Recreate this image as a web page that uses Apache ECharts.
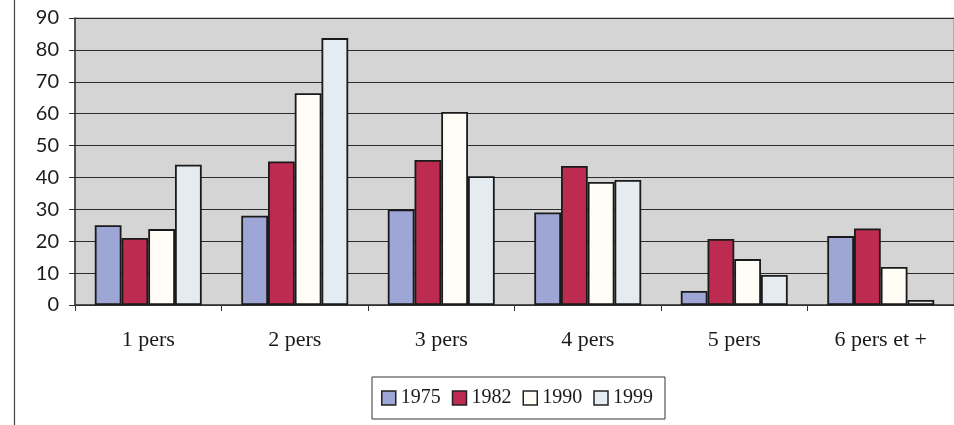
<!DOCTYPE html>
<html>
<head>
<meta charset="utf-8">
<script src="https://cdn.jsdelivr.net/npm/echarts@6/dist/echarts.min.js"></script>
<style>
  html, body { margin: 0; padding: 0; background: #ffffff; }
  #chart { width: 954px; height: 425px; }
</style>
</head>
<body>
<div id="chart"></div>
<script>
// Households by size: share per survey year
const categories = ['1 pers', '2 pers', '3 pers', '4 pers', '5 pers', '6 pers et +'];
const years = ['1975', '1982', '1990', '1999'];
const values1975 = [25, 28, 30, 29, 4.4, 21.6];
const values1982 = [21, 45, 45.5, 43.6, 20.7, 24];
const values1990 = [23.8, 66.4, 60.5, 38.6, 14.4, 11.9];
const values1999 = [44, 83.7, 40.4, 39.2, 9.4, 1.6];
const yTicks = [0, 10, 20, 30, 40, 50, 60, 70, 80, 90];

const seriesValues = [values1975, values1982, values1990, values1999];
const colors = ['#9ea6d6', '#bd2c50', '#fffdf5', '#e4ebf1'];

const chart = echarts.init(document.getElementById('chart'), null, { renderer: 'canvas' });

chart.setOption({
  animation: false,
  backgroundColor: '#ffffff',
  grid: {
    left: 75, top: 18, width: 888, bottom: 120,
    show: true, backgroundColor: '#d5d5d5', borderColor: '#8a8a8a', borderWidth: 1
  },
  xAxis: {
    type: 'category',
    data: categories,
    axisLine: { show: true, lineStyle: { color: '#333', width: 1.5 } },
    axisTick: { show: true, length: 6, lineStyle: { color: '#333' } },
    axisLabel: {
      margin: 24,
      fontFamily: 'Liberation Serif',
      fontSize: 22,
      color: '#1a1a1a'
    }
  },
  yAxis: {
    type: 'value',
    min: yTicks[0],
    max: yTicks[yTicks.length - 1],
    interval: 10,
    axisLine: { show: true, lineStyle: { color: '#333', width: 1.5 } },
    axisTick: { show: true, length: 6, lineStyle: { color: '#333' } },
    splitLine: { show: true, lineStyle: { color: '#2b2b2b', width: 1.2 } },
    axisLabel: {
      margin: 16,
      fontFamily: 'Lato',
      fontSize: 20,
      color: '#1a1a1a'
    }
  },
  legend: {
    data: years,
    left: 372, top: 377,
    padding: [11, 12, 11, 9],
    itemGap: 11,
    itemWidth: 14, itemHeight: 14,
    icon: 'rect',
    borderColor: '#333', borderWidth: 1,
    itemStyle: { borderColor: '#222', borderWidth: 1.5 },
    textStyle: { fontFamily: 'Liberation Serif', fontSize: 20, color: '#1a1a1a' }
  },
  graphic: [
    {
      type: 'line',
      shape: { x1: 14.5, y1: 0, x2: 14.5, y2: 425 },
      style: { stroke: '#444', lineWidth: 1.2 }
    }
  ],
  series: years.map((y, i) => ({
    name: y,
    type: 'bar',
    data: seriesValues[i],
    barGap: '0%',
    barCategoryGap: '27%',
    itemStyle: { color: colors[i], borderColor: '#1a1a1a', borderWidth: 1.8 }
  }))
});
</script>
</body>
</html>
